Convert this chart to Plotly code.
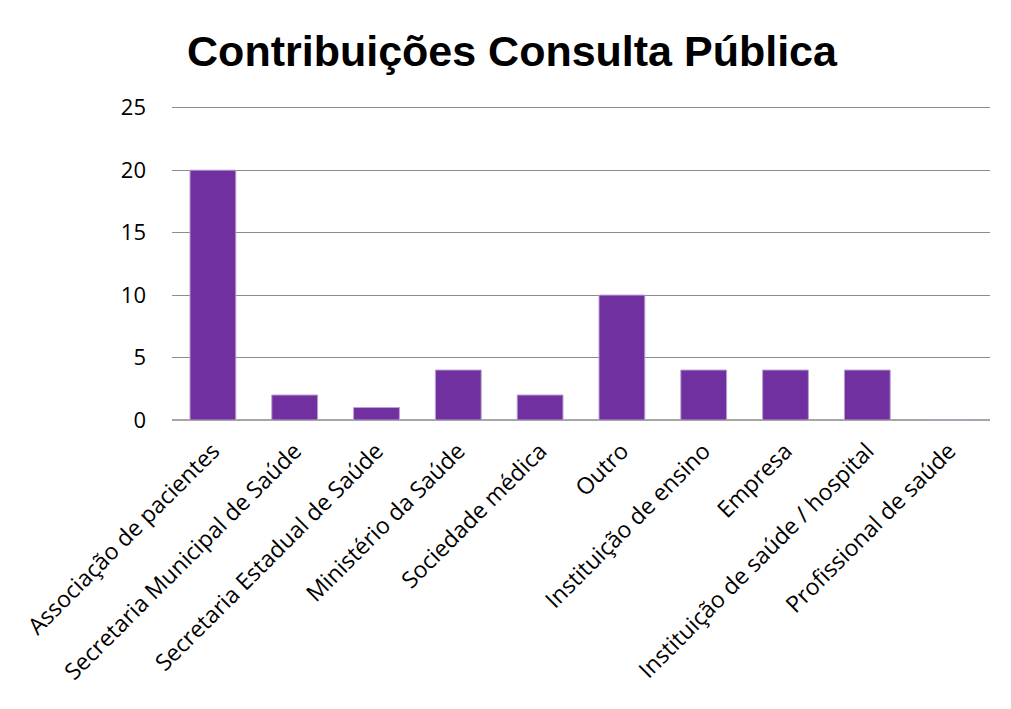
import plotly.graph_objects as go

categories = [
    "Associação de pacientes",
    "Secretaria Municipal de Saúde",
    "Secretaria Estadual de Saúde",
    "Ministério da Saúde",
    "Sociedade médica",
    "Outro",
    "Instituição de ensino",
    "Empresa",
    "Instituição de saúde / hospital",
    "Profissional de saúde",
]
values = [20, 2, 1, 4, 2, 10, 4, 4, 4, 0]
y_ticks = [0, 5, 10, 15, 20, 25]
title_text = "Contribuições Consulta Pública"

OFF = 8  # page body margin

fig = go.Figure(
    go.Bar(
        x=categories,
        y=values,
        marker=dict(color="#7030A0", line=dict(color="#B9A0D0", width=1)),
    )
)

fig.update_layout(
    width=1011 - OFF,
    height=709 - OFF,
    paper_bgcolor="white",
    plot_bgcolor="white",
    margin=dict(l=172 - OFF, r=21, t=96, b=289),
    bargap=0.44,
    showlegend=False,
    title=dict(
        text=title_text,
        x=(512 - OFF) / (1011 - OFF),
        xanchor="center",
        y=1 - (51 - OFF) / (709 - OFF),
        yanchor="middle",
        font=dict(family="Liberation Sans, Arial", size=43, color="black", weight="bold"),
    ),
)

fig.update_xaxes(
    tickangle=-45,
    tickfont=dict(family="Open Sans", size=23, color="black"),
    showline=False,
    ticks="",
    ticklabelstandoff=12,
    automargin=False,
)
fig.update_yaxes(
    range=[0, 25.3],
    tickvals=y_ticks,
    showgrid=True,
    gridcolor="#8C8C8C",
    gridwidth=1,
    zeroline=True,
    zerolinecolor="#A6A6A6",
    zerolinewidth=2,
    tickfont=dict(family="Open Sans", size=22, color="black"),
    ticks="",
    ticklabelstandoff=25,
    automargin=False,
)

fig.write_html("out.html")
